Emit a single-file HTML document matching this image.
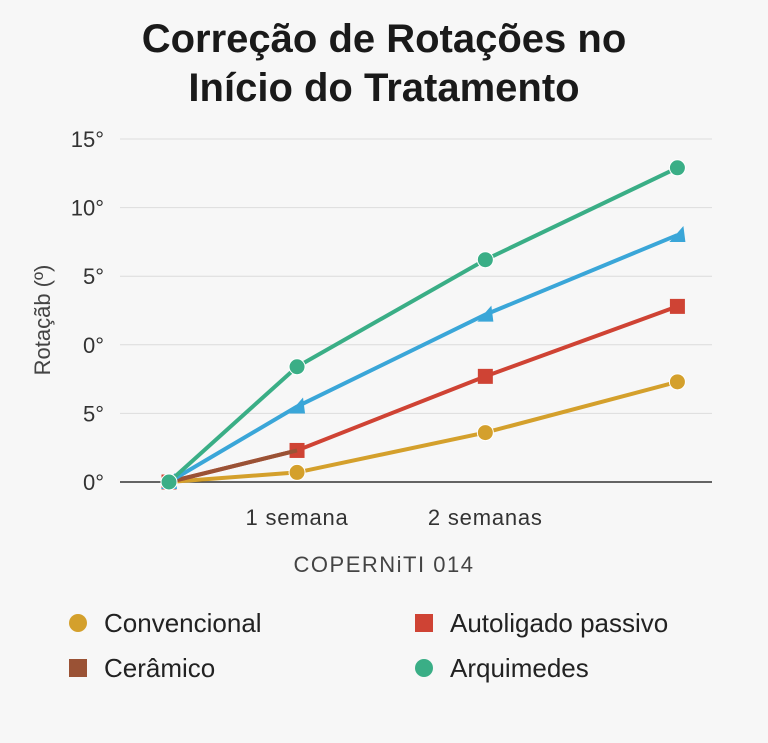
<!DOCTYPE html>
<html><head><meta charset="utf-8"><style>
body{margin:0;background:#f7f7f7;}
svg{display:block;font-family:"Liberation Sans",sans-serif;}
</style></head><body>
<svg id="c" width="768" height="743" viewBox="0 0 768 743">
<rect width="768" height="743" fill="#f7f7f7"/>
<text x="384" y="52" text-anchor="middle" font-size="40" font-weight="bold" fill="#1a1a1a">Correção de Rotações no</text>
<text x="384" y="101" text-anchor="middle" font-size="40" font-weight="bold" fill="#1a1a1a">Início do Tratamento</text>
<g id="grid"></g><g id="series"></g>
<text x="384" y="572" text-anchor="middle" font-size="22" letter-spacing="1.5" fill="#444">COPERNiTI 014</text>
<text transform="translate(50,320) rotate(-90)" text-anchor="middle" font-size="22" fill="#444">Rotaçãb (º)</text>
<g>
<circle cx="78" cy="623" r="9" fill="#d4a02c"/>
<text x="104" y="632" font-size="26" fill="#222">Convencional</text>
<rect x="69" y="659" width="18" height="18" fill="#9a5235"/>
<text x="104" y="677" font-size="26" fill="#222">Cerâmico</text>
<rect x="415" y="614" width="18" height="18" fill="#cf4334"/>
<text x="450" y="632" font-size="26" fill="#222">Autoligado passivo</text>
<circle cx="424" cy="668" r="9" fill="#3aae86"/>
<text x="450" y="677" font-size="26" fill="#222">Arquimedes</text>
</g>
</svg>
<script>
const weeks = [0, 0.68, 1.68, 2.7];
const xTickWeeks = [0.68, 1.68];
const xTickLabels = ["1 semana", "2 semanas"];
const yTicks = [0, 5, 10, 15, 20, 25];
const yTickLabels = ["0°", "5°", "0°", "5°", "10°", "15°"];
const arquimedes = [0, 8.4, 16.2, 22.9];
const azul = [0, 5.5, 12.2, 18.0];
const autoligado = [0, 2.3, 7.7, 12.8];
const convencional = [0, 0.7, 3.6, 7.3];
const ceramico = [0, 2.3];

const NS = "http://www.w3.org/2000/svg";
const x = w => 169 + w * 188.3;
const y = v => 482 - v * 13.72;
function mk(t, a, p) { const e = document.createElementNS(NS, t); for (const k in a) e.setAttribute(k, a[k]); p.appendChild(e); return e; }
const grid = document.getElementById("grid"), ser = document.getElementById("series");
yTicks.forEach((t, i) => {
  const l = mk("line", {x1: 120, x2: 712, y1: y(t), y2: y(t), stroke: i === 0 ? "#333" : "#dcdcdc", "stroke-width": i === 0 ? 1.5 : 1}, grid);
  
  
  const tx = mk("text", {x: 104, y: y(t) + 8, "text-anchor": "end", "font-size": 22, fill: "#333"}, grid);
  tx.textContent = yTickLabels[i];
  
  
});
xTickWeeks.forEach((w, i) => {
  const tx = mk("text", {x: x(w), y: 525, "text-anchor": "middle", "font-size": 22, "letter-spacing": 0.8, fill: "#333"}, grid);
  tx.textContent = xTickLabels[i];
  
  
});
function draw(vals, color, marker, name) {
  const pts = vals.map((v, i) => x(weeks[i]) + "," + y(v)).join(" ");
  const pl = mk("polyline", {points: pts, fill: "none", stroke: color, "stroke-width": 4}, ser);
  
  
  vals.forEach((v, i) => {
    const cx = x(weeks[i]), cy = y(v); let m;
    if (marker === "circle") m = mk("circle", {cx: cx, cy: cy, r: 8, fill: color, stroke: "#fff", "stroke-width": 1}, ser);
    else if (marker === "square") m = mk("rect", {x: cx - 7.5, y: cy - 7.5, width: 15, height: 15, fill: color}, ser);
    else if (marker === "tri") m = mk("polygon", {points: (cx - 8) + "," + (cy + 7) + " " + (cx + 8) + "," + (cy + 7) + " " + (cx + 6) + "," + (cy - 9), fill: color}, ser);
    else return;
    
    
  });
}
draw(convencional, "#d4a02c", "circle", "convencional");
draw(autoligado, "#cf4334", "square", "autoligado");
draw(ceramico, "#9a5235", "none", "ceramico");
draw(azul, "#3aa6d8", "tri", "azul");
draw(arquimedes, "#3aae86", "circle", "arquimedes");
</script>
</body></html>
